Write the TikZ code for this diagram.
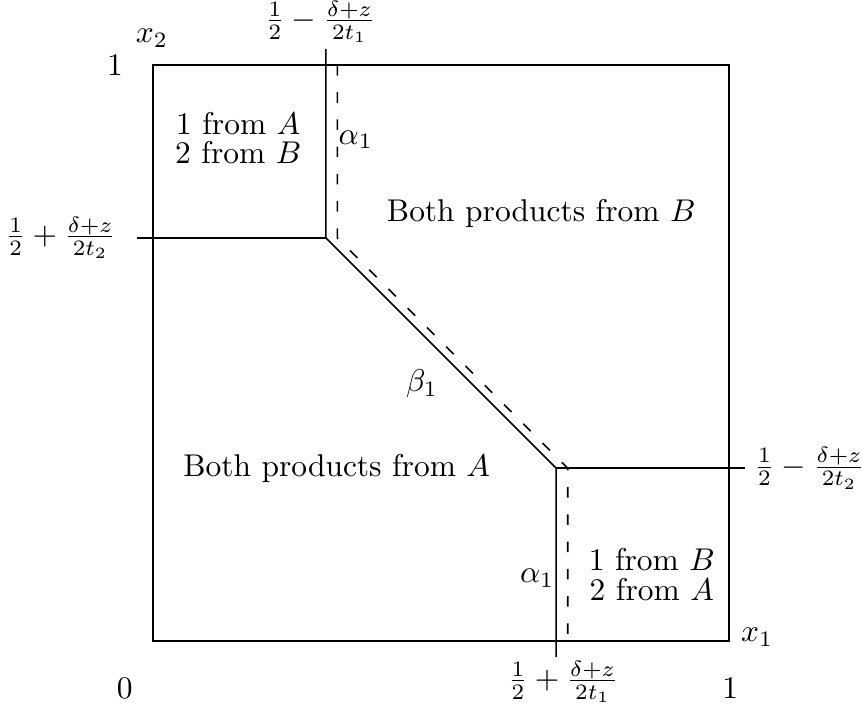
\documentclass[tikz,border=0pt]{standalone}
\usepackage{amsmath,amssymb}
\usetikzlibrary{positioning}

\begin{document}
\begin{tikzpicture}[x=11.52cm, y=11.52cm, line width=0.9pt,
      every node/.style={scale=1.79, font=\fontsize{10}{9.5}\selectfont},
      bound/.style={line width=0.9pt},
      shifted/.style={line width=0.9pt, dash pattern=on 6pt off 9.5pt},
      region/.style={align=center},
      tick/.style={inner sep=0pt}]

    % ---- Layout ----
    \def\xa{0.3}    % left kink x
    \def\xb{0.7}    % right kink x
    \def\dd{0.02}   % offset of shifted boundary
    \def\ov{0.028}  % overhang of boundary past the square

    \useasboundingbox (-0.2656,-0.1128) rectangle (1.2309,1.1128);

    % ---- Unit square ----
    \coordinate (o) at (0,0);
    \coordinate (tr) at (1,1);
    \draw (o) rectangle (tr);

    % ---- Boundary corners ----
    \coordinate (kl) at (\xa, 1-\xa);
    \coordinate (kr) at (\xb, 1-\xb);
    \coordinate (kltop) at (\xa, 1+\ov);
    \coordinate (klleft) at (-\ov, 1-\xa);
    \coordinate (krright) at (1+\ov, 1-\xb);
    \coordinate (krbot) at (\xb, -\ov);

    % ---- Boundary (solid) ----
    \draw[bound] (kltop) -- (kl) -- (kr) -- (krbot);
    \draw[bound] (klleft) -- (kl);
    \draw[bound] (kr) -- (krright);

    % ---- Shifted boundary (dashed) ----
    \coordinate (sa) at (\xa+\dd, 1);
    \coordinate (sb) at (\xa+\dd, 1-\xa);
    \coordinate (sc) at (\xb+\dd, 1-\xb);
    \coordinate (sd) at (\xb+\dd, 0);
    \draw[shifted] (sa) -- (sb) -- (sc) -- (sd);

    % ---- Axis labels ----
    \node[tick] (x2) at (-0.002, 1.047) {$x_2$};
    \node[tick] (one2) at (-0.066, 1.0) {1};
    \node[tick] (zero) at (-0.049, -0.082) {0};
    \node[tick] (one1) at (1.002, -0.082) {1};
    \node[tick] (x1) at (1.049, 0.007) {$x_1$};

    % ---- Threshold labels ----
    \node[tick] (ttop) at (0.29, 1.075) {$\frac{1}{2}-\frac{\delta+z}{2t_1}$};
    \node[tick] (tleft) at (-0.16, 0.7) {$\frac{1}{2}+\frac{\delta+z}{2t_2}$};
    \node[tick] (tright) at (1.14, 0.3) {$\frac{1}{2}-\frac{\delta+z}{2t_2}$};
    \node[tick] (tbot) at (0.712, -0.071) {$\frac{1}{2}+\frac{\delta+z}{2t_1}$};

    % ---- Regions ----
    \node[region] (mixA) at (0.148, 0.873) {1 from $A$\\2 from $B$};
    \node[region] (allB) at (0.674, 0.743) {Both products from $B$};
    \node[region] (allA) at (0.319, 0.30) {Both products from $A$};
    \node[region] (mixB) at (0.866, 0.116) {1 from $B$\\2 from $A$};

    % ---- Segment labels ----
    \node[tick] (al1) at (0.352, 0.87) {$\alpha_1$};
    \node[tick] (be1) at (0.467, 0.446) {$\beta_1$};
    \node[tick] (al2) at (0.667, 0.109) {$\alpha_1$};

\end{tikzpicture}
\end{document}
